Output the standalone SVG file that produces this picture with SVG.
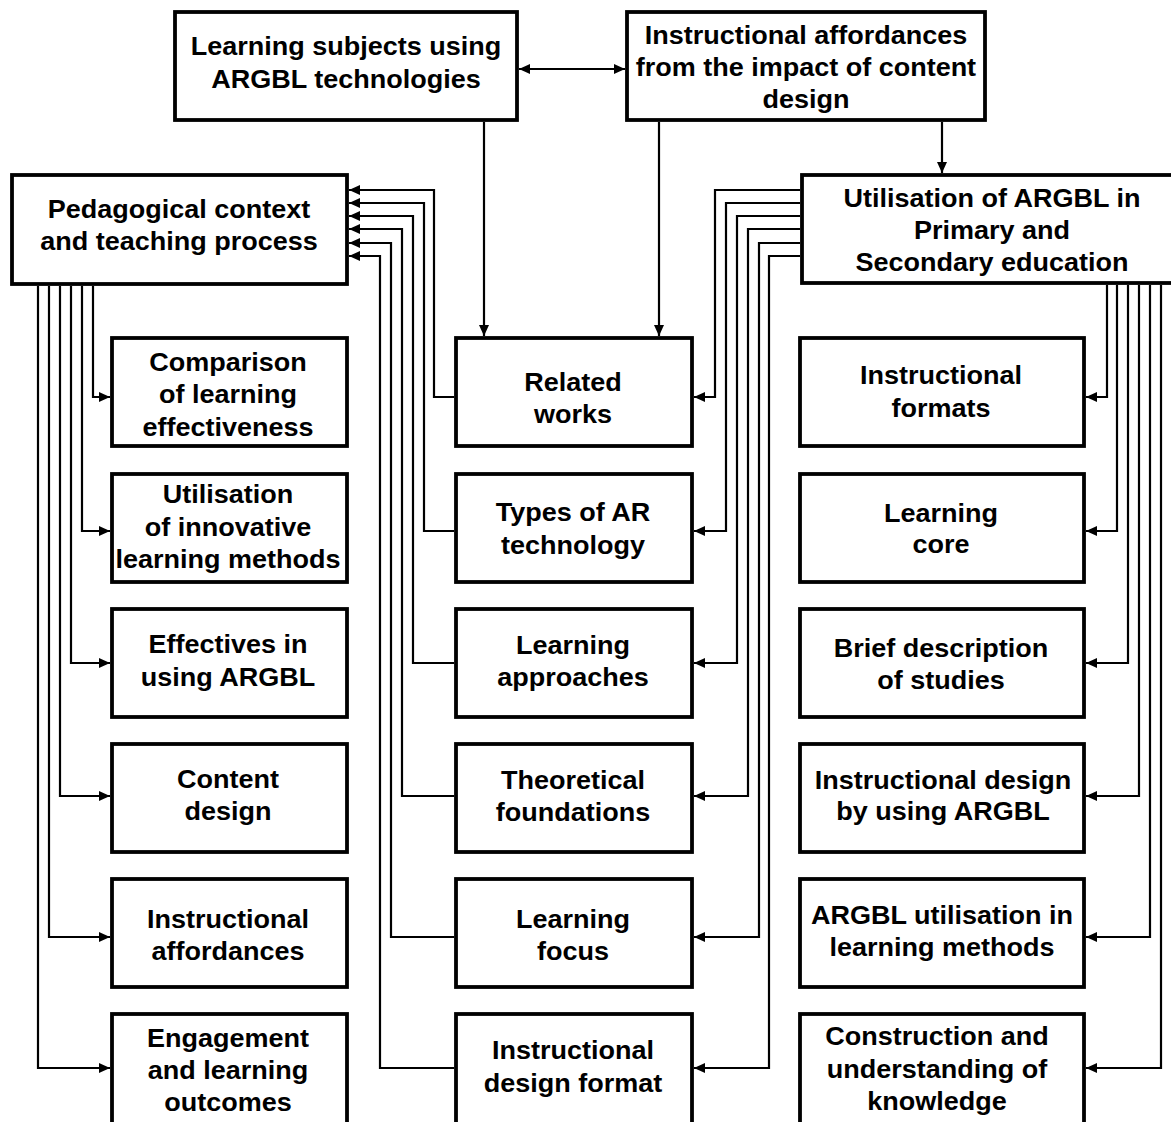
<svg xmlns="http://www.w3.org/2000/svg" width="1171" height="1122" viewBox="0 0 1171 1122">
<style>
.box{fill:#fff;stroke:#000;stroke-width:3.8}
.c{fill:none;stroke:#000;stroke-width:2.2}
.a{marker-end:url(#arr)}
text{font-family:"Liberation Sans",Arial,sans-serif;font-weight:bold;font-size:25px;fill:#000;text-anchor:middle;transform-box:fill-box;transform-origin:center;transform:scaleX(1.08)}
</style>
<defs>
<marker id="arr" viewBox="0 0 11 10" refX="11" refY="5" markerWidth="11" markerHeight="10" markerUnits="userSpaceOnUse" orient="auto-start-reverse">
<path d="M0,0 L11,5 L0,10 z" fill="#000"/>
</marker>
</defs>
<rect width="1171" height="1122" fill="#fff"/>

<g id="connectors">
<path class="c" d="M519,69 H625" marker-start="url(#arr)" marker-end="url(#arr)"/>
<path class="c a" d="M484,122 V336"/>
<path class="c a" d="M659,122 V336"/>
<path class="c a" d="M942,122 V173"/>

<path class="c a" d="M93,286 V397 H110"/>
<path class="c a" d="M82,286 V531 H110"/>
<path class="c a" d="M71,286 V663 H110"/>
<path class="c a" d="M60,286 V796 H110"/>
<path class="c a" d="M49,286 V937 H110"/>
<path class="c a" d="M38,286 V1068 H110"/>

<path class="c a" d="M454,397 H434 V190 H349"/>
<path class="c a" d="M454,531 H424 V203 H349"/>
<path class="c a" d="M454,663 H413 V216 H349"/>
<path class="c a" d="M454,796 H402 V229 H349"/>
<path class="c a" d="M454,937 H391 V243 H349"/>
<path class="c a" d="M454,1068 H380 V256 H349"/>

<path class="c a" d="M800,190 H715 V397 H694"/>
<path class="c a" d="M800,203 H726 V531 H694"/>
<path class="c a" d="M800,216 H737 V663 H694"/>
<path class="c a" d="M800,229 H748 V796 H694"/>
<path class="c a" d="M800,243 H759 V937 H694"/>
<path class="c a" d="M800,256 H769 V1068 H694"/>

<path class="c a" d="M1107,285 V397 H1086"/>
<path class="c a" d="M1117,285 V531 H1086"/>
<path class="c a" d="M1128,285 V663 H1086"/>
<path class="c a" d="M1139,285 V796 H1086"/>
<path class="c a" d="M1150,285 V937 H1086"/>
<path class="c a" d="M1161,285 V1068 H1086"/>
</g>

<g id="n-subjects"><rect class="box" x="175" y="12" width="342" height="108"/>
<text x="346" y="55">Learning subjects using</text><text x="346" y="88">ARGBL technologies</text></g>
<g id="n-affordances-top"><rect class="box" x="627" y="12" width="358" height="108"/>
<text x="806" y="44">Instructional affordances</text><text x="806" y="76">from the impact of content</text><text x="806" y="108">design</text></g>
<g id="n-pedagogical"><rect class="box" x="12" y="175" width="335" height="109"/>
<text x="179" y="218">Pedagogical context</text><text x="179" y="250">and teaching process</text></g>
<g id="n-utilisation"><rect class="box" x="802" y="175" width="380" height="108"/>
<text x="992" y="207">Utilisation of ARGBL in</text><text x="992" y="239">Primary and</text><text x="992" y="271">Secondary education</text></g>

<g id="n-comparison"><rect class="box" x="112" y="338" width="235" height="108"/>
<text x="228" y="371">Comparison</text><text x="228" y="403.5">of learning</text><text x="228" y="436">effectiveness</text></g>
<g id="n-innovative"><rect class="box" x="112" y="474" width="235" height="108"/>
<text x="228" y="503.5">Utilisation</text><text x="228" y="536">of innovative</text><text x="228" y="568.5">learning methods</text></g>
<g id="n-effectives"><rect class="box" x="112" y="609" width="235" height="108"/>
<text x="228" y="653">Effectives in</text><text x="228" y="686">using ARGBL</text></g>
<g id="n-content"><rect class="box" x="112" y="744" width="235" height="108"/>
<text x="228" y="788">Content</text><text x="228" y="820">design</text></g>
<g id="n-instr-aff"><rect class="box" x="112" y="879" width="235" height="108"/>
<text x="228" y="928">Instructional</text><text x="228" y="960">affordances</text></g>
<g id="n-engagement"><rect class="box" x="112" y="1014" width="235" height="120"/>
<text x="228" y="1047">Engagement</text><text x="228" y="1079">and learning</text><text x="228" y="1111">outcomes</text></g>

<g id="n-related"><rect class="box" x="456" y="338" width="236" height="108"/>
<text x="573" y="391">Related</text><text x="573" y="423">works</text></g>
<g id="n-types"><rect class="box" x="456" y="474" width="236" height="108"/>
<text x="573" y="521">Types of AR</text><text x="573" y="554">technology</text></g>
<g id="n-approaches"><rect class="box" x="456" y="609" width="236" height="108"/>
<text x="573" y="654">Learning</text><text x="573" y="686">approaches</text></g>
<g id="n-theoretical"><rect class="box" x="456" y="744" width="236" height="108"/>
<text x="573" y="789">Theoretical</text><text x="573" y="821">foundations</text></g>
<g id="n-focus"><rect class="box" x="456" y="879" width="236" height="108"/>
<text x="573" y="928">Learning</text><text x="573" y="960">focus</text></g>
<g id="n-design-format"><rect class="box" x="456" y="1014" width="236" height="120"/>
<text x="573" y="1059">Instructional</text><text x="573" y="1092">design format</text></g>

<g id="n-formats"><rect class="box" x="800" y="338" width="284" height="108"/>
<text x="941" y="384.5">Instructional</text><text x="941" y="417">formats</text></g>
<g id="n-core"><rect class="box" x="800" y="474" width="284" height="108"/>
<text x="941" y="522">Learning</text><text x="941" y="553.5">core</text></g>
<g id="n-brief"><rect class="box" x="800" y="609" width="284" height="108"/>
<text x="941" y="657">Brief description</text><text x="941" y="689">of studies</text></g>
<g id="n-instr-design"><rect class="box" x="800" y="744" width="284" height="108"/>
<text x="943" y="789">Instructional design</text><text x="943" y="820">by using ARGBL</text></g>
<g id="n-argbl-methods"><rect class="box" x="800" y="879" width="284" height="108"/>
<text x="942" y="924">ARGBL utilisation in</text><text x="942" y="956">learning methods</text></g>
<g id="n-construction"><rect class="box" x="800" y="1014" width="284" height="120"/>
<text x="937" y="1045">Construction and</text><text x="937" y="1078">understanding of</text><text x="937" y="1110.5">knowledge</text></g>
</svg>
